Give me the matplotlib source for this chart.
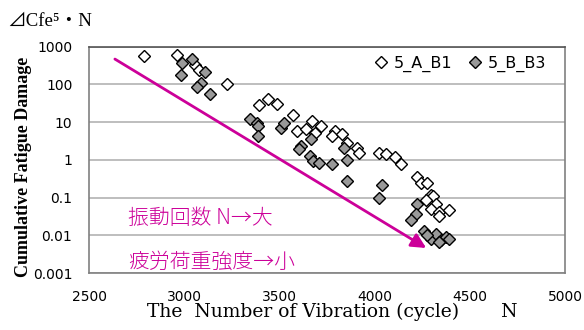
import matplotlib
matplotlib.use("Agg")
import matplotlib.pyplot as plt

# ---- data ----
a_b1_n = [2790, 2960, 3055, 3080, 3225, 3440, 3395, 3485, 3570, 3590, 3670, 3720,
          3640, 3685, 3790, 3775, 3830, 3855, 3905, 3920, 4025, 4060, 4105, 4140,
          4220, 4245, 4275, 4295, 4305, 4270, 4325, 4295, 4340, 4390, 4340]
a_b1_d = [560, 620, 320, 240, 105, 42, 29, 31, 15, 5.9, 10.8, 8.0,
          6.6, 5.2, 5.9, 4.3, 4.9, 2.8, 2.0, 1.5, 1.55, 1.4, 1.2, 0.76,
          0.36, 0.24, 0.24, 0.12, 0.11, 0.087, 0.068, 0.05, 0.042, 0.048, 0.032]

b_b3_n = [2990, 3040, 2985, 3110, 3090, 3065, 3135, 3345, 3380, 3385, 3385, 3510,
          3525, 3668, 3615, 3605, 3660, 3675, 3710, 3775, 3840, 3855, 3855, 4040,
          4025, 4225, 4218, 4192, 4260, 4297, 4323, 4349, 4375, 4391, 4339, 4276]
b_b3_d = [365, 470, 175, 210, 107, 83, 57, 12.3, 9.6, 8.0, 4.3, 7.0,
          9.6, 3.6, 2.3, 1.9, 1.25, 0.92, 0.82, 0.80, 2.0, 1.0, 0.27, 0.22,
          0.10, 0.068, 0.036, 0.026, 0.013, 0.0082, 0.011, 0.0076, 0.0090, 0.0080, 0.0068, 0.010]

series_labels = ["5_A_B1", "5_B_B3"]
x_ticks = [2500, 3000, 3500, 4000, 4500, 5000]
y_ticks = [0.001, 0.01, 0.1, 1, 10, 100, 1000]
y_tick_labels = ["0.001", "0.01", "0.1", "1", "10", "100", "1000"]
arrow_start = (2636, 470)
arrow_end = (4271, 0.0046)
note1 = "振動回数 N→大"
note2 = "疲労荷重強度→小"
x_title = "The  Number of Vibration (cycle)       N"
y_title = "Cumulative Fatigue Damage"
top_title = "⊿Cfe⁵・N"

MAG = "#CC0099"
SERIF = ["Liberation Serif", "DejaVu Serif", "Noto Sans CJK JP"]

fig = plt.figure(figsize=(5.84, 3.30), dpi=100)
ax = fig.add_axes([0.1524, 0.1727, 0.8151, 0.6858])

ax.set_yscale("log")
ax.set_xlim(2500, 5000)
ax.set_ylim(0.001, 1000)

ax.yaxis.grid(True, color="#b3b3b3", linewidth=1.2)
ax.set_axisbelow(True)
for s in ax.spines.values():
    s.set_color("#808080")
    s.set_linewidth(1.2)
ax.spines["top"].set_color("#555555")

ax.set_xticks(x_ticks)
ax.set_xticklabels([str(t) for t in x_ticks])
ax.set_yticks(y_ticks)
ax.set_yticklabels(y_tick_labels)
ax.yaxis.set_minor_locator(matplotlib.ticker.NullLocator())
ax.tick_params(axis="both", length=0, pad=12, labelsize=10)
for lab in ax.get_xticklabels() + ax.get_yticklabels():
    lab.set_fontfamily("DejaVu Sans")

ax.plot(a_b1_n, a_b1_d, linestyle="none", marker="D", markersize=6.0,
        markerfacecolor="white", markeredgecolor="black", markeredgewidth=1.0,
        label=series_labels[0], zorder=3)
ax.plot(b_b3_n, b_b3_d, linestyle="none", marker="D", markersize=6.0,
        markerfacecolor="#999999", markeredgecolor="black", markeredgewidth=1.0,
        label=series_labels[1], zorder=3)

ax.annotate("", xy=arrow_end, xytext=arrow_start,
            arrowprops=dict(arrowstyle="-|>", color=MAG, lw=2.0,
                            mutation_scale=22, shrinkA=0, shrinkB=0),
            zorder=4)

ax.text(0.082, 0.243, note1, transform=ax.transAxes, color=MAG, fontsize=15,
        family=["Noto Sans CJK JP", "DejaVu Sans"], va="center", ha="left",
        fontweight="light")
ax.text(0.082, 0.049, note2, transform=ax.transAxes, color=MAG, fontsize=15,
        family=["Noto Sans CJK JP", "DejaVu Sans"], va="center", ha="left",
        fontweight="light")

leg = ax.legend(loc="upper right", ncol=2, frameon=False,
                handletextpad=0.3, columnspacing=0.9, handlelength=1.0,
                bbox_to_anchor=(0.99, 1.025), prop={"family": "DejaVu Sans", "size": 11.5})

ax.set_ylabel(y_title, fontsize=13, fontweight="bold", family=SERIF)
ax.yaxis.set_label_coords(-0.12, 0.47)
ax.set_xlabel(x_title, fontsize=13.5,
              family=["DejaVu Serif", "Liberation Serif"])
ax.xaxis.set_label_coords(0.511, -0.13)

fig.text(0.012, 0.935, top_title, fontsize=13.5, family=SERIF,
         va="center", ha="left")

fig.savefig("out.png", dpi=100)
